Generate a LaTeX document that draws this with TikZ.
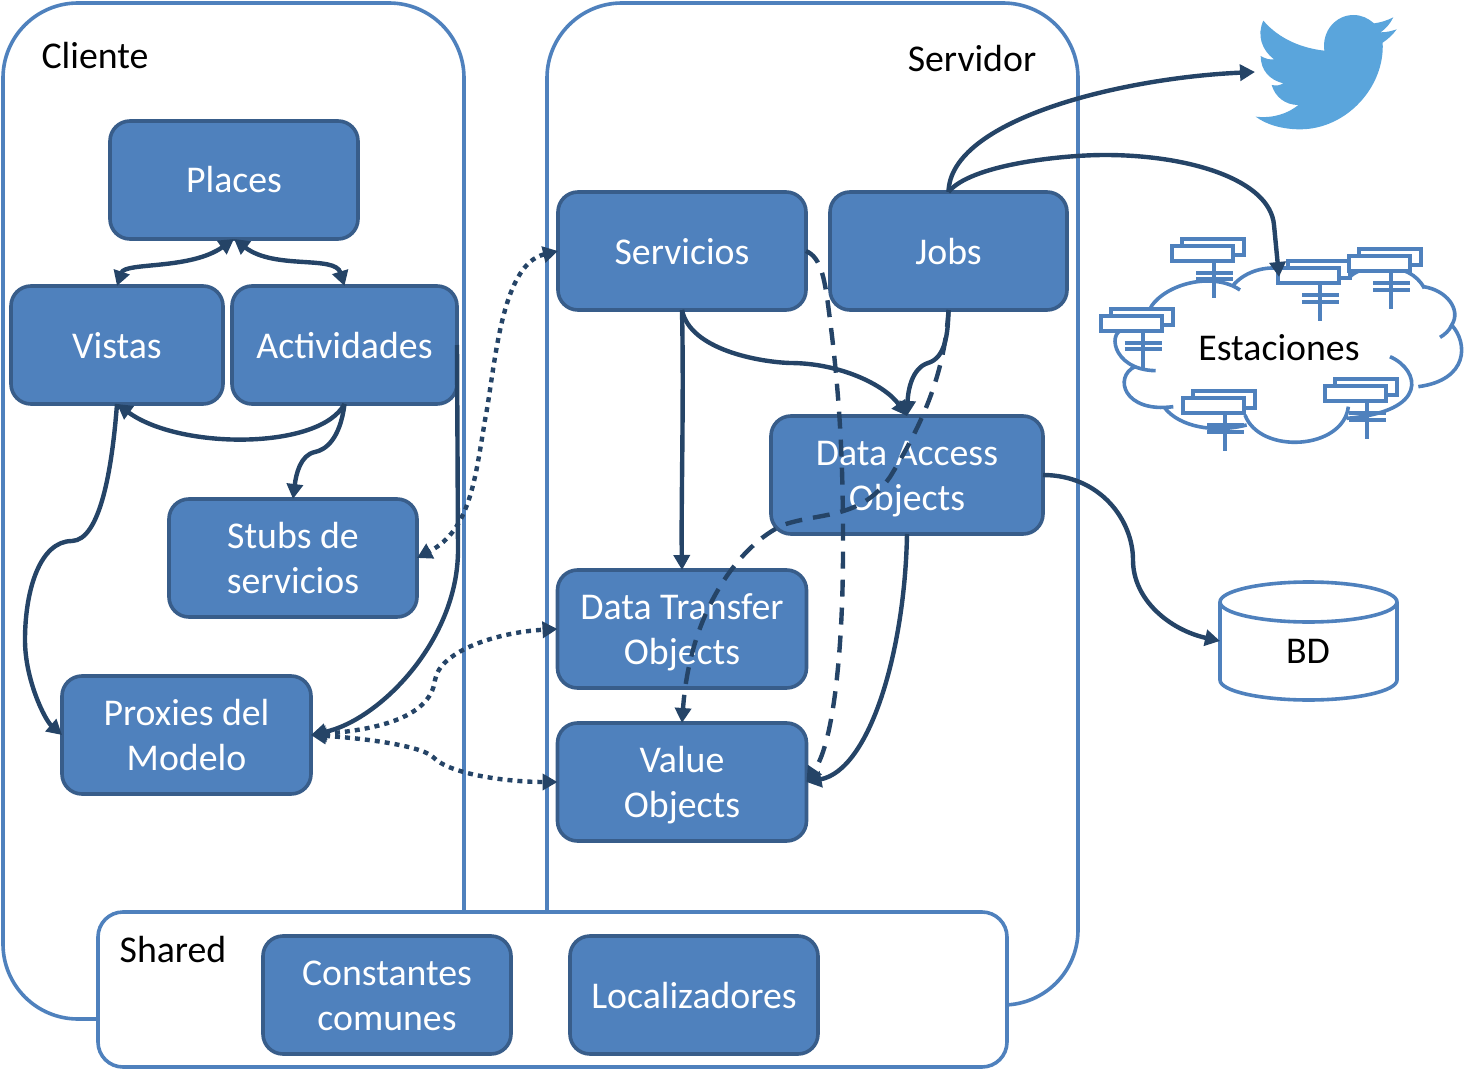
\documentclass[tikz,border=0pt]{standalone}
\usepackage{fontspec}
\setmainfont{Carlito}
\usetikzlibrary{arrows.meta}
\definecolor{boxfill}{HTML}{4F81BD}
\definecolor{boxline}{HTML}{385D8A}
\definecolor{arrowc}{HTML}{254467}
\definecolor{birdc}{HTML}{5AA5DC}
\newcommand{\lns}{\rule[-9.5pt]{0pt}{45pt}}
\tikzset{
  box/.style={draw=boxline,fill=boxfill,line width=3.6pt,rounded corners=20pt,text=white,align=center,
    font=\fontsize{37.8}{45}\selectfont,inner sep=0pt,outer sep=0pt,minimum height=118pt},
  frame/.style={draw=boxfill,line width=3.6pt},
  label/.style={font=\fontsize{37.8}{45}\selectfont,text=black,inner sep=0pt},
  conn/.style={draw=arrowc,line width=4.4pt,-{Triangle[length=15pt,width=16pt]}},
  bothconn/.style={draw=arrowc,line width=4.4pt,{Triangle[length=15pt,width=16pt]}-{Triangle[length=15pt,width=16pt]}},
  dotline/.style={dash pattern=on 5pt off 5pt},
  dashline/.style={dash pattern=on 17pt off 11pt},
  cloudline/.style={draw=boxfill,line width=3.6pt},
}
\newcommand{\station}[2]{%
  \begin{scope}[shift={(#1,#2)}]
    \draw[cloudline,line width=4pt,fill=white] (30,-21) rectangle (215,28);
    \draw[cloudline,line width=4pt,fill=white] (0,0) rectangle (183,45);
    \draw[cloudline,line width=4pt] (125,45) -- (125,158);
    \draw[cloudline,line width=4pt] (71,81) -- (183,81) (71,101) -- (183,101);
  \end{scope}}
\begin{document}
\begin{tikzpicture}[x=1pt,y=-1pt]
\useasboundingbox (0,0) rectangle (1465,1070);
% big frames
\draw[frame,rounded corners=75pt] (3,3) rectangle (464,1019);
\draw[frame,rounded corners=75pt] (547,3) rectangle (1078,1005);
\draw[frame,fill=white,rounded corners=25pt] (98,912) rectangle (1007,1067);
\node[label] (cliente) at (95,56) {Cliente};
\node[label] (servidor) at (972,59) {Servidor};
\node[label] (shared) at (173,950) {Shared};
% twitter bird
\fill[birdc,shift={(1090,0)},scale=0.33333]
  (520,62) .. controls (570,120) and (640,145) .. (703,152)
  .. controls (695,90) and (740,45) .. (790,45)
  .. controls (815,45) and (835,55) .. (852,70)
  .. controls (870,68) and (890,62) .. (910,52)
  .. controls (900,72) and (888,85) .. (872,97)
  .. controls (890,97) and (905,93) .. (920,88)
  .. controls (908,105) and (893,118) .. (878,128)
  .. controls (885,260) and (770,388) .. (630,388)
  .. controls (580,388) and (530,375) .. (497,350)
  .. controls (550,356) and (595,340) .. (625,315)
  .. controls (585,315) and (555,290) .. (545,255)
  .. controls (560,258) and (570,256) .. (580,250)
  .. controls (538,240) and (512,210) .. (512,168)
  .. controls (525,176) and (540,180) .. (552,178)
  .. controls (515,150) and (500,105) .. (520,62) -- cycle;
\coordinate (twitter) at (1255,72);
% cloud
\begin{scope}[shift={(1090,0)},scale=0.33333]
\draw[cloudline]
  (183,920) .. controls (230,850) and (370,815) .. (450,870)
  (430,855) .. controls (470,810) and (530,800) .. (570,805)
  (570,805) .. controls (640,800) and (720,805) .. (785,835)
  (780,830) .. controls (820,790) and (960,780) .. (1003,865)
  (1000,860) .. controls (1070,870) and (1115,930) .. (1085,975)
  (1085,975) .. controls (1078,992) and (1065,1003) .. (1050,1012)
  (1085,975) .. controls (1135,1030) and (1135,1140) .. (985,1160)
  (900,1070) .. controls (990,1110) and (1020,1235) .. (770,1255)
  (775,1220) .. controls (760,1350) and (510,1365) .. (465,1245)
  (470,1275) .. controls (370,1300) and (270,1280) .. (225,1225)
  (250,1220) .. controls (100,1240) and (70,1130) .. (135,1100)
  (197,1112) .. controls (60,1110) and (50,980) .. (110,990)
  (170,960) -- (183,920);
\station{247}{737}
\station{565}{805}
\station{778}{768}
\station{33}{947}
\station{280}{1195}
\station{706}{1158}
\end{scope}
\node[label] (estaciones) at (1279,348) {Estaciones};
\coordinate (estin) at (1279,277);
% database
\node[minimum width=177pt,minimum height=118pt,outer sep=0pt,inner sep=0pt] (bd) at (1308.5,641) {};
\draw[cloudline,fill=white] (1220,602) .. controls (1220,591) and (1260,582) .. (1308.5,582)
  .. controls (1357,582) and (1397,591) .. (1397,602) -- (1397,680)
  .. controls (1397,691) and (1357,700) .. (1308.5,700)
  .. controls (1260,700) and (1220,691) .. (1220,680) -- cycle;
\draw[cloudline] (1220,602) .. controls (1220,613) and (1260,622) .. (1308.5,622)
  .. controls (1357,622) and (1397,613) .. (1397,602);
\node[label] (bdtext) at (1308,651) {BD};
% boxes
\node[box,minimum width=248pt] (places) at (234,180) {\lns Places};
\node[box,minimum width=212pt] (vistas) at (117,345) {\lns Vistas};
\node[box,minimum width=225pt] (actividades) at (344.5,345) {\lns Actividades};
\node[box,minimum width=248pt] (stubs) at (293,558) {\lns Stubs de\\servicios\lns};
\node[box,minimum width=249pt] (proxies) at (186.5,735) {\lns Proxies del\\Modelo\lns};
\node[box,minimum width=248pt] (servicios) at (682,251) {\lns Servicios};
\node[box,minimum width=237pt] (jobs) at (948.5,251) {\lns Jobs};
\node[box,minimum width=272pt] (dao) at (907,475) {\lns Data Access\\Objects\lns};
\node[box,minimum width=249pt] (dto) at (682,629) {\lns Data Transfer\\Objects\lns};
\node[box,minimum width=249pt] (vo) at (682,782) {\lns Value\\Objects\lns};
\node[box,minimum width=248pt] (constantes) at (387,995) {\lns Constantes\\comunes\lns};
\node[box,minimum width=248pt] (localizadores) at (694,995) {\lns Localizadores};
% connectors
\draw[bothconn] (vistas.north) .. controls (125,262) and (190,270) .. (places.south);
\draw[bothconn] (places.south) .. controls (275,270) and (335,255) .. (actividades.north);
\draw[conn] (actividades.south) .. controls (320,450) and (180,450) .. (vistas.south);
\draw[conn] (actividades.south) .. controls (340,440) and (325,450) .. (315,452) .. controls (300,455) and (296,475) .. (stubs.north);
\draw[conn] (vistas.south) .. controls (112,470) and (100,540) .. (72,541) .. controls (40,541) and (25,590) .. (25,640) .. controls (25,680) and (45,720) .. (proxies.west);
\draw[conn] (actividades.east) -- (458,550) .. controls (458,640) and (380,720) .. (proxies.east);
\draw[bothconn,dotline] (servicios.west) .. controls (500,265) and (495,370) .. (485,420) .. controls (475,480) and (470,530) .. (stubs.east);
\draw[bothconn,dotline] (proxies.east) .. controls (370,730) and (430,720) .. (435,680) .. controls (440,650) and (500,632) .. (dto.west);
\draw[bothconn,dotline] (proxies.east) .. controls (360,738) and (420,745) .. (433,757) .. controls (450,775) and (510,782) .. (vo.west);
\draw[conn] (servicios.south) .. controls (684,400) and (681,500) .. (dto.north);
\draw[conn] (servicios.south) .. controls (690,350) and (760,362) .. (790,363) .. controls (840,363) and (885,385) .. (dao.north);
\draw[conn] (jobs.south) .. controls (948,335) and (945,358) .. (928,363) .. controls (912,368) and (908,390) .. (dao.north);
\draw[conn] (jobs.north) .. controls (950,120) and (1120,78) .. (twitter);
\draw[conn] (jobs.north) .. controls (970,165) and (1060,155) .. (1105,155) .. controls (1190,155) and (1270,180) .. (1274,225) -- (estin);
\draw[conn] (dao.east) .. controls (1100,475) and (1133,520) .. (1133,560) .. controls (1133,600) and (1170,630) .. (bd.west);
\draw[conn] (dao.south) .. controls (905,650) and (870,770) .. (vo.east);
\draw[conn,dashline] (servicios.east) .. controls (822,258) and (825,280) .. (830,320) .. controls (843,420) and (843,500) .. (843,550) .. controls (843,640) and (835,740) .. (vo.east);
\draw[conn,dashline] (jobs.south) .. controls (945,370) and (925,420) .. (890,477) .. controls (860,520) and (820,512) .. (783,525) .. controls (740,545) and (690,610) .. (vo.north);
\end{tikzpicture}
\end{document}
